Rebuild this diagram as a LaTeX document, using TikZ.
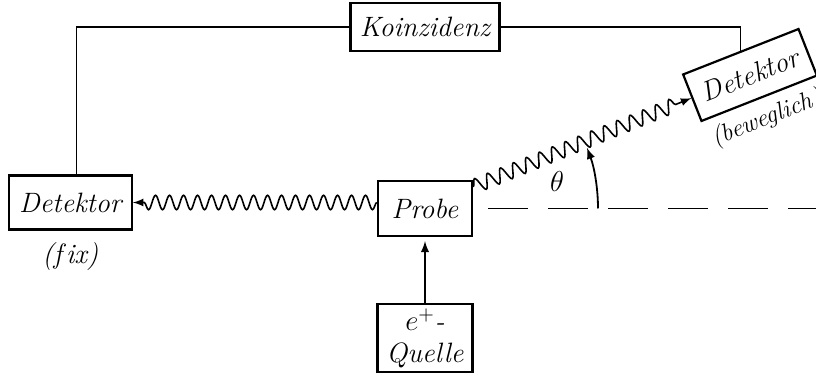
\documentclass[tikz,border=0pt]{standalone}
\usepackage{amsmath, amssymb}
\usetikzlibrary{arrows.meta, positioning, calc, decorations.pathmorphing}

\begin{document}
\begin{tikzpicture}[
    x=0.5pt, y=0.5pt,
    box/.style={draw=black, line width=1.1pt, inner sep=2pt, font=\fontsize{14}{16}\selectfont\itshape},
    note/.style={inner sep=1pt, font=\fontsize{14}{16}\selectfont\itshape},
    wire/.style={line width=0.8pt, draw=black},
    wave/.style={-latex, line width=0.8pt, decorate, decoration={snake, amplitude=3.6pt, segment length=7pt, post length=5pt}},
    arrow/.style={-latex, line width=0.9pt}
]
    \useasboundingbox (0,0) rectangle (816,374);

    % Probe in the middle, the rest placed around it
    \node[box, minimum width=47pt, minimum height=27.5pt] (probe) at (425,165.5) {Probe};
    \node[box, minimum width=74.5pt, minimum height=24pt, above=64pt of probe] (koinz) {Koinzidenz};
    \node[box, minimum width=61.5pt, minimum height=27pt, left=122pt of probe, yshift=3pt] (det_fix) {Detektor};
    \node[box, minimum width=47.5pt, minimum height=34pt, below=33pt of probe, align=center] (quelle) {$e^{+}$-\\Quelle};

    % Movable detector, turned by the angle
    \node[box, rotate=21.5, minimum width=62pt, minimum height=25pt] (det_mov) at (750,299) {Detektor};

    % Labels under the detectors
    \node[note, below=5pt of det_fix] (fix_txt) {(f\/ix)};
    \node[note, rotate=21.5, anchor=north, font=\fontsize{12.5}{14}\selectfont\itshape] (bew_txt) at ([shift={(-68.5:3pt)}]det_mov.south) {(beweglich)};

    % Coincidence wiring
    \draw[wire] ([xshift=3pt]det_fix.north) |- (koinz.west);
    \draw[wire] (koinz.east) -| (det_mov.north);

    % Source to sample
    \draw[arrow] (quelle.north) -- ([yshift=-2pt]probe.south);

    % Gamma quanta
    \draw[wave] (det_fix.east -| probe.west) -- (det_fix.east);
    \draw[wave] ([yshift=-3.5pt]probe.north east) -- (det_mov.west);

    % Axis and angle
    \coordinate (axis_end) at (816,165.5);
    \draw[wire, dash pattern=on 20pt off 10pt] ([xshift=7.5pt]probe.east) -- (axis_end);
    \draw[arrow] ([xshift=86.5pt]probe.center) arc[start angle=0, end angle=20.5, radius=86.5pt];
    \node[note] (theta) at (557,192) {$\theta$};

\end{tikzpicture}
\end{document}
